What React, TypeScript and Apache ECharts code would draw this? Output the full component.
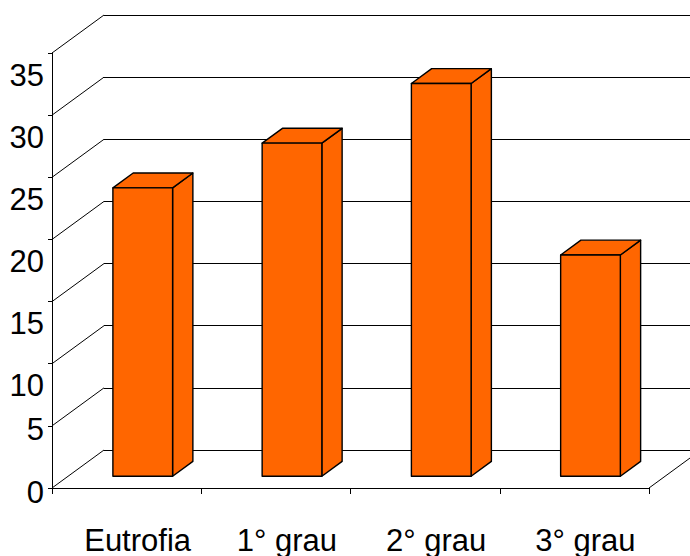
import React, { useEffect, useRef } from "react";
import * as echarts from "echarts";

// Chart data
const categories = ["Eutrofia", "1° grau", "2° grau", "3° grau"];
const values = [23.2, 26.8, 31.6, 17.8];
const yTicks = [0, 5, 10, 15, 20, 25, 30, 35];
const yMin = 0;
const yMax = 35;
const yStep = 5;

// Oblique depth of the 3D box (pixels from front plane to back wall)
const DEPTH_X = 52;
const DEPTH_Y = -38;
// Bars sit between these depth fractions
const BAR_FRONT = 0.31;
const BAR_BACK = 0.7;
const BAR_WIDTH_RATIO = 0.4;

const FONT = "'Liberation Sans', Arial, Helvetica, sans-serif";
const LINE = "#000";
const ORANGE = "#FF6600";

export default function App() {
  const ref = useRef<HTMLDivElement>(null);

  useEffect(() => {
    if (!ref.current) return;
    const chart = echarts.init(ref.current, undefined, { renderer: "svg" });

    const bandOf = (api: any) =>
      api.coord([1, 0])[0] - api.coord([0, 0])[0];

    const option: any = {
      animation: false,
      backgroundColor: "#fff",
      grid: [
        // front plane
        { left: 52, top: 53, width: 597, height: 435, containLabel: false },
        // back wall
        { left: 52 + DEPTH_X, top: 53 + DEPTH_Y, width: 597, height: 435, containLabel: false },
      ],
      xAxis: [
        {
          type: "category",
          gridIndex: 0,
          data: categories,
          boundaryGap: true,
          axisLine: { show: true, lineStyle: { color: LINE, width: 1 } },
          axisTick: { show: true, length: 6, inside: false, lineStyle: { color: LINE } },
          axisLabel: {
            show: true,
            margin: 38,
            color: "#000",
            fontFamily: FONT,
            fontSize: 31,
            lineHeight: 28,
            padding: [0, 0, 0, 22],
          },
          splitLine: { show: false },
        },
        { type: "value", gridIndex: 1, show: false, min: 0, max: 1 },
      ],
      yAxis: [
        {
          type: "value",
          gridIndex: 0,
          min: yMin,
          max: yMax,
          interval: yStep,
          axisLine: { show: true, lineStyle: { color: LINE, width: 1 } },
          axisTick: { show: true, length: 4, inside: false, lineStyle: { color: LINE } },
          splitLine: { show: false },
          axisLabel: {
            show: true,
            margin: 8,
            formatter: (v: number) => (v <= 5 ? `{lo|${v}}` : `{hi|${v}}`),
            rich: {
              hi: {
                fontFamily: FONT,
                fontSize: 31,
                color: "#000",
                padding: [44, 0, 0, 0],
              },
              lo: {
                fontFamily: FONT,
                fontSize: 31,
                color: "#000",
                padding: [8, 0, 0, 0],
              },
            },
          },
        },
        {
          type: "value",
          gridIndex: 1,
          min: yMin,
          max: yMax,
          interval: yStep,
          axisLine: { show: false },
          axisTick: { show: false },
          axisLabel: { show: false },
          splitLine: { show: true, lineStyle: { color: LINE, width: 1 } },
        },
      ],
      series: [
        // oblique gridlines joining the front axis to the back wall
        {
          type: "custom",
          xAxisIndex: 0,
          yAxisIndex: 0,
          clip: false,
          silent: true,
          z: 1,
          data: yTicks.map((v) => [0, v]),
          renderItem: (_p: any, api: any) => {
            const pt = api.coord([0, api.value(1)]);
            const left = pt[0] - bandOf(api) / 2;
            return {
              type: "line",
              shape: { x1: left, y1: pt[1], x2: left + DEPTH_X, y2: pt[1] + DEPTH_Y },
              style: { stroke: LINE, lineWidth: 1 },
            };
          },
        },
        // right edge of the floor
        {
          type: "custom",
          xAxisIndex: 0,
          yAxisIndex: 0,
          clip: false,
          silent: true,
          z: 1,
          data: [[categories.length - 1, 0]],
          renderItem: (_p: any, api: any) => {
            const pt = api.coord([api.value(0), api.value(1)]);
            const right = pt[0] + bandOf(api) / 2;
            return {
              type: "line",
              shape: { x1: right, y1: pt[1], x2: right + DEPTH_X, y2: pt[1] + DEPTH_Y },
              style: { stroke: LINE, lineWidth: 1 },
            };
          },
        },
        // 3D columns
        {
          type: "custom",
          xAxisIndex: 0,
          yAxisIndex: 0,
          clip: false,
          z: 5,
          data: values.map((v, i) => [i, v]),
          renderItem: (_p: any, api: any) => {
            const i = api.value(0);
            const v = api.value(1);
            const base = api.coord([i, 0]);
            const top = api.coord([i, v]);
            const w = bandOf(api) * BAR_WIDTH_RATIO;
            const fx = BAR_FRONT * DEPTH_X;
            const fy = BAR_FRONT * DEPTH_Y;
            const dx = (BAR_BACK - BAR_FRONT) * DEPTH_X;
            const dy = (BAR_BACK - BAR_FRONT) * DEPTH_Y;
            const x0 = base[0] - w / 2 + fx;
            const x1 = x0 + w;
            const yb = base[1] + fy;
            const yt = top[1] + fy;
            const style = { fill: ORANGE, stroke: LINE, lineWidth: 1.4, lineJoin: "round" };
            return {
              type: "group",
              children: [
                {
                  type: "polygon",
                  shape: { points: [[x1, yt], [x1 + dx, yt + dy], [x1 + dx, yb + dy], [x1, yb]] },
                  style,
                },
                {
                  type: "polygon",
                  shape: { points: [[x0, yt], [x0 + dx, yt + dy], [x1 + dx, yt + dy], [x1, yt]] },
                  style,
                },
                {
                  type: "polygon",
                  shape: { points: [[x0, yt], [x1, yt], [x1, yb], [x0, yb]] },
                  style,
                },
              ],
            };
          },
        },
      ],
    };

    chart.setOption(option);
    return () => chart.dispose();
  }, []);

  return (
    <div
      ref={ref}
      style={{ position: "absolute", left: 0, top: 0, width: 690, height: 556, background: "#fff" }}
    />
  );
}
